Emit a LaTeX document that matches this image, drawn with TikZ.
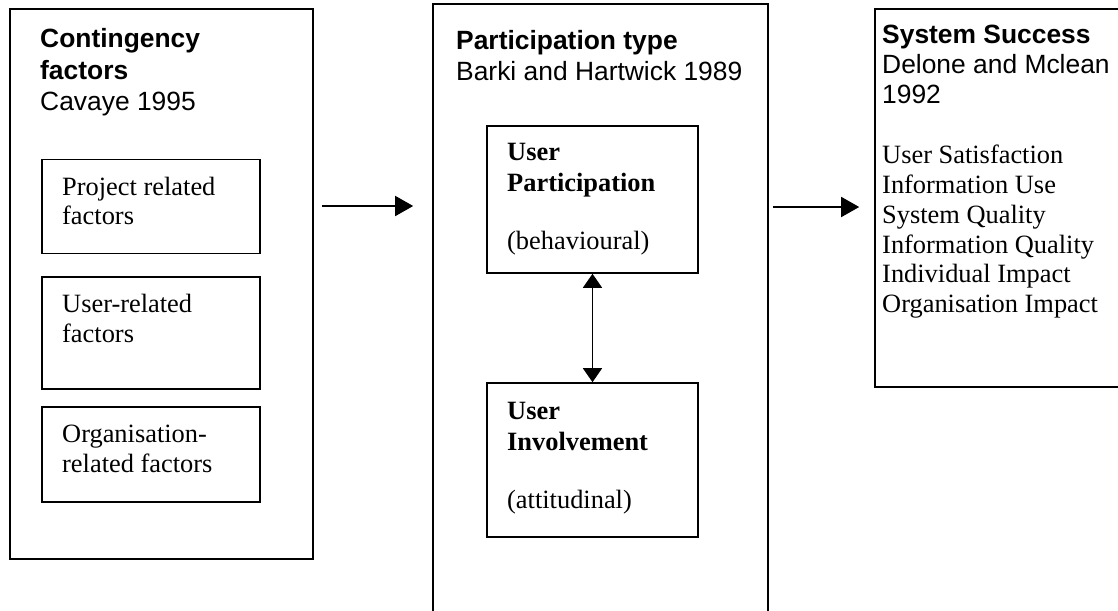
\documentclass[tikz,border=0pt]{standalone}
\usepackage{fontspec}
\setmainfont{Liberation Serif}
\newfontfamily\sansf{Liberation Sans}
\usetikzlibrary{arrows.meta}
\begin{document}
\begin{tikzpicture}[x=1pt,y=-1pt,
  box/.style={draw, line width=1.6pt, rectangle, inner sep=0pt},
  txt/.style={anchor=base west, inner sep=0pt, font=\fontsize{26.4}{30}\selectfont},
  btxt/.style={anchor=base west, inner sep=0pt, font=\fontsize{26.4}{30}\selectfont\bfseries},
  hd/.style={anchor=base west, inner sep=0pt, font=\fontsize{26.4}{30}\selectfont\sansf\bfseries},
  sub/.style={anchor=base west, inner sep=0pt, font=\fontsize{26.4}{30}\selectfont\sansf},
  arr/.style={-{Triangle[length=18pt,width=20pt]}, line width=1.6pt},
  darr/.style={{Triangle[length=14pt,width=19pt]}-{Triangle[length=14pt,width=19pt]}, line width=1.6pt}]
\clip (0,0) rectangle (1118,610);
% outer boxes
\node[box, minimum width=303pt, minimum height=550pt] (cf) at (161.5,284) {};
\node[box, minimum width=335pt, minimum height=636pt] (pt) at (600.5,322) {};
\node[box, minimum width=265pt, minimum height=378pt] (ss) at (1007.5,198) {};
% inner boxes left
\node[box, minimum width=218pt, minimum height=94pt] (b1) at (151,206.5) {};
\node[box, minimum width=218pt, minimum height=112pt] (b2) at (151,333) {};
\node[box, minimum width=218pt, minimum height=95pt] (b3) at (151,454.5) {};
% inner boxes middle
\node[box, minimum width=211pt, minimum height=147pt] (up) at (592.5,199.5) {};
\node[box, minimum width=211pt, minimum height=154pt] (ui) at (592.5,460) {};
% texts left
\node[hd] (t1) at (40,48) {Contingency};
\node[hd] (t2) at (40,79) {factors};
\node[sub] (t3) at (40,110) {Cavaye 1995};
\node[txt] (t4) at (62,195) {Project related};
\node[txt] (t5) at (62,224) {factors};
\node[txt] (t6) at (62,312) {User-related};
\node[txt] (t7) at (62,342) {factors};
\node[txt] (t8) at (62,442) {Organisation-};
\node[txt] (t9) at (62,472) {related factors};
% texts middle
\node[hd] (m1) at (456,49) {Participation type};
\node[sub] (m2) at (456,80) {Barki and Hartwick 1989};
\node[btxt] (m3) at (507,160) {User};
\node[btxt] (m4) at (507,191) {Participation};
\node[txt] (m5) at (507,249) {(behavioural)};
\node[btxt] (m6) at (507,419) {User};
\node[btxt] (m7) at (507,450) {Involvement};
\node[txt] (m8) at (507,508) {(attitudinal)};
% texts right
\node[hd] (r1) at (882,44) {System Success};
\node[sub] (r2) at (882,74) {Delone and Mclean};
\node[sub] (r3) at (882,103) {1992};
\node[txt] (r4) at (882,163) {User Satisfaction};
\node[txt] (r5) at (882,193) {Information Use};
\node[txt] (r6) at (882,223) {System Quality};
\node[txt] (r7) at (882,253) {Information Quality};
\node[txt] (r8) at (882,282) {Individual Impact};
\node[txt] (r9) at (882,312) {Organisation Impact};
% connectors
\coordinate (a1) at (0,206);
\coordinate (a2) at (0,207);
\draw[arr, shorten <=8pt, shorten >=19pt] (cf.east |- a1) -- (pt.west |- a1);
\draw[arr, shorten <=4pt, shorten >=15pt] (pt.east |- a2) -- (ss.west |- a2);
\draw[darr] (up.south) -- (ui.north);
\end{tikzpicture}
\end{document}
